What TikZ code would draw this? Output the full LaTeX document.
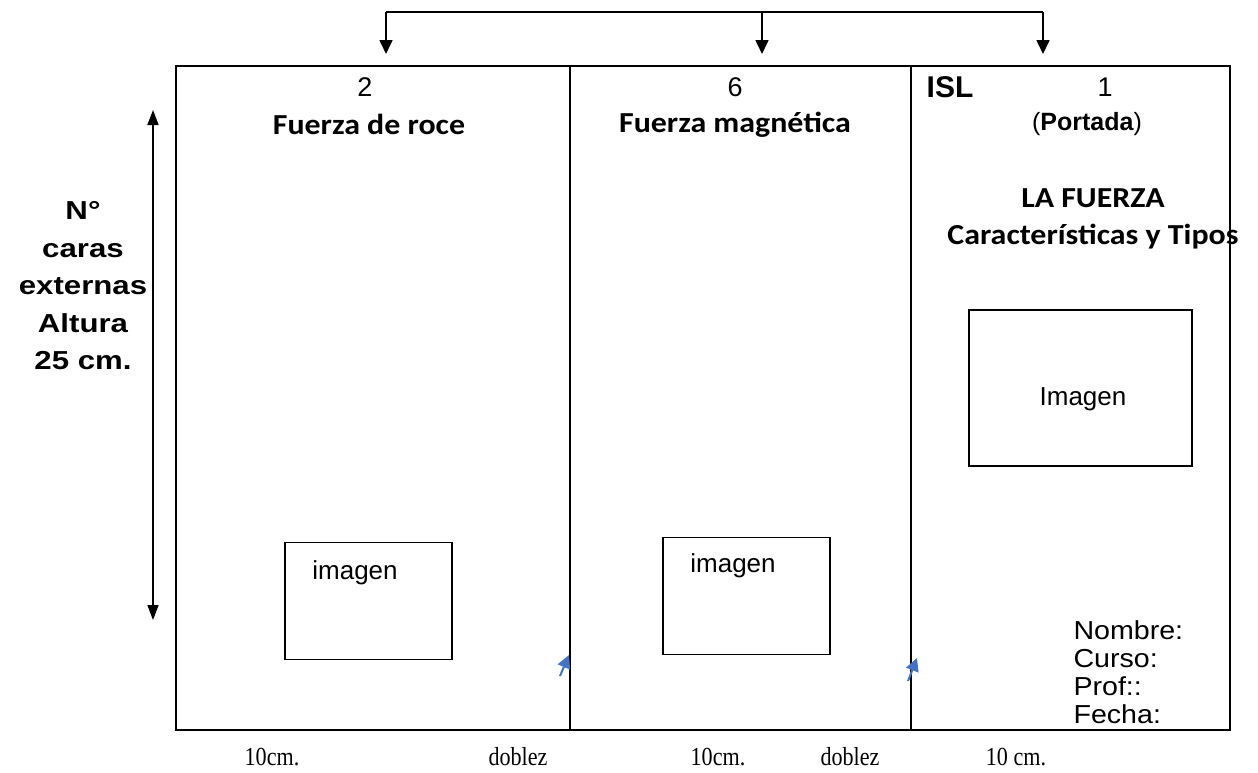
\documentclass[tikz,border=0pt]{standalone}
\usepackage{fontspec}
\setmainfont{Liberation Sans}
\newfontfamily\wide[FakeStretch=1.2]{Liberation Sans}
\newfontfamily\semiwide[FakeStretch=1.1]{Liberation Sans}
\newfontfamily\calib[FakeStretch=1.1]{Carlito}
\newfontfamily\tms{Liberation Serif}
\usetikzlibrary{positioning,arrows.meta}

\newcommand{\narrow}[1]{\scalebox{0.85}[1]{#1}}

\tikzset{
  panel/.style={line width=2pt},
  imgbox/.style={draw, line width=1.3pt, minimum width=167pt, minimum height=117pt, inner sep=0pt},
  num/.style={font=\fontsize{27}{30}\selectfont},
  imgtext/.style={font=\fontsize{26}{30}\selectfont},
  title/.style={font=\calib\bfseries\fontsize{29}{37}\selectfont, align=center},
  dim/.style={font=\tms\fontsize{26}{30}\selectfont},
  pointer/.style={-{Triangle[length=14pt,width=13pt]}, line width=1.6pt},
  fold/.style={-{Triangle[length=13pt,width=13pt]}, line width=2pt, draw={rgb,255:red,68;green,114;blue,196}}
}

\begin{document}
\begin{tikzpicture}[x=1pt,y=-1pt]
    \useasboundingbox (0,0) rectangle (1258,772);
    % triptico: three faces
    \draw[line width=2.6pt] (176,66) rectangle (1230,730);
    \coordinate (d1t) at (570,66);
    \coordinate (d1b) at (570,730);
    \coordinate (d2t) at (911,66);
    \coordinate (d2b) at (911,730);
    \draw[panel] (d1t) -- (d1b);
    \draw[panel] (d2t) -- (d2b);

    % top bracket
    \coordinate (bl) at (386,12);
    \coordinate (bm) at (762,12);
    \coordinate (br) at (1043,12);
    \draw[line width=1.6pt] (bl) -- (br);
    \draw[pointer] (bl) -- (386,54);
    \draw[pointer] (bm) -- (762,54);
    \draw[pointer] (br) -- (1043,54);

    % height
    \coordinate (ht) at (153,110);
    \coordinate (hb) at (153,620);
    \draw[{Triangle[length=15pt,width=11pt]}-{Triangle[length=15pt,width=11pt]}, line width=1.6pt] (ht) -- (hb);
    \node[font=\wide\bfseries\fontsize{26}{37.5}\selectfont, align=center] (alto) at (83,286)
      {N°\\caras\\externas\\Altura\\25 cm.};

    % face 2
    \node[num] (n2) at (365,87) {2};
    \node[title] (t2) at (369,124) {Fuerza de roce};
    \node[imgbox] (img2) at (368.5,601) {};
    \node[imgtext] (l2) at (355,573) {imagen};

    % face 6
    \node[num] (n6) at (735,87) {6};
    \node[title] (t6) at (735,125) {Fuerza magnética};
    \node[imgbox] (img6) at (746.5,596) {};
    \node[imgtext] (l6) at (733,566) {imagen};

    % face 1 (portada)
    \node[font=\bfseries\fontsize{30}{32}\selectfont] (isl) at (950,87) {ISL};
    \node[num] (n1) at (1105,87) {1};
    \node[font=\fontsize{25}{28}\selectfont] (port) at (1087,124) {(\textbf{Portada})};
    \node[title] (t1) at (1093,219) {LA FUERZA\\Características y Tipos};
    \node[imgbox, minimum width=223pt, minimum height=156pt] (img1) at (1080.5,388) {};
    \node[imgtext] (l1) at (1083,399) {Imagen};
    \node[font=\semiwide\fontsize{26}{28}\selectfont, align=left, anchor=north west] (datos) at (1070,617)
      {Nombre:\\Curso:\\Prof::\\Fecha:};

    % fold marks
    \draw[fold] (560,676) -- (569,655);
    \draw[fold] (908,681) -- (917,658);

    % measures
    \node[dim] (m1) at (272,757) {\narrow{10cm.}};
    \node[dim] (f1) at (518,757) {\narrow{doblez}};
    \node[dim] (m2) at (718,757) {\narrow{10cm.}};
    \node[dim] (f2) at (850,757) {\narrow{doblez}};
    \node[dim] (m3) at (1016,757) {\narrow{10 cm.}};
\end{tikzpicture}
\end{document}
